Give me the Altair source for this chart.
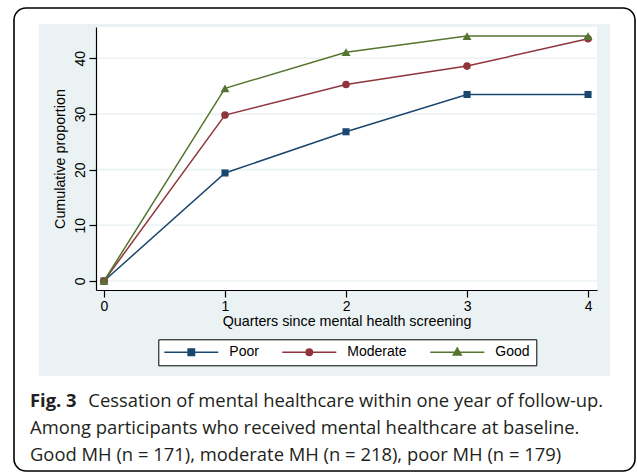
import altair as alt
import pandas as pd

# ---- data ----
quarters = [0, 1, 2, 3, 4]
poor = [0, 19.4, 26.8, 33.5, 33.5]
moderate = [0, 29.8, 35.3, 38.6, 43.5]
good = [0, 34.6, 41.1, 44.0, 44.0]
series_names = ["Poor", "Moderate", "Good"]
series_colors = ["#1a476f", "#90353b", "#55752f"]
x_ticks = [0, 1, 2, 3, 4]
y_ticks = [0, 10, 20, 30, 40]
x_title = "Quarters since mental health screening"
y_title = "Cumulative proportion"
caption_bold = "Fig. 3"
caption_lines = [
    "Cessation of mental healthcare within one year of follow-up.",
    "Among participants who received mental healthcare at baseline.",
    "Good MH (n = 171), moderate MH (n = 218), poor MH (n = 179)",
]

rows = []
for name, vals in zip(series_names, [poor, moderate, good]):
    for q, v in zip(quarters, vals):
        rows.append({"quarter": q, "value": v, "series": name})
df = pd.DataFrame(rows)
grid_df = pd.DataFrame({"value": y_ticks})
one = alt.Data(values=[{"a": 1}])

W, H = 501, 263
FONT = "Liberation Sans"
BG = "#EAF2F3"

x_scale = alt.Scale(domain=[-0.066, 4.074], nice=False, zero=False)
y_scale = alt.Scale(domain=[-1.62, 45.62], nice=False, zero=False)

x_axis = alt.Axis(values=x_ticks, format="d", title=x_title, grid=False,
                  domainColor="black", domainWidth=1.2, tickColor="black",
                  tickWidth=1.2, tickSize=7, labelFont=FONT, labelFontSize=14,
                  labelColor="black", labelPadding=2, titleFont=FONT,
                  titleFontSize=14.3, titleFontWeight="normal", titleColor="black",
                  titlePadding=1, zindex=1)
y_axis = alt.Axis(values=y_ticks, format="d", title=y_title, grid=False,
                  domainColor="black", domainWidth=1.2, tickColor="black",
                  tickWidth=1.2, tickSize=7, labelFont=FONT, labelFontSize=14,
                  labelColor="black", labelAngle=270, labelAlign="center",
                  labelBaseline="alphabetic", labelPadding=5, titleFont=FONT,
                  titleFontSize=14.3, titleFontWeight="normal", titleColor="black",
                  titlePadding=6, zindex=1)

X = alt.X("quarter:Q", scale=x_scale, axis=x_axis)
Y = alt.Y("value:Q", scale=y_scale, axis=y_axis)

# ---- background decorations ----
frame = alt.Chart(one).mark_rect(fill="white", stroke="black", strokeWidth=1.6,
                                 cornerRadius=12).encode(
    x=alt.value(-82), x2=alt.value(539), y=alt.value(-19), y2=alt.value(444))
region = alt.Chart(one).mark_rect(fill=BG).encode(
    x=alt.value(-57), x2=alt.value(514), y=alt.value(-3), y2=alt.value(349))
plotbg = alt.Chart(one).mark_rect(fill="white").encode(
    x=alt.value(0), x2=alt.value(W), y=alt.value(0), y2=alt.value(H))

grid = alt.Chart(grid_df).mark_rule(color=BG, strokeWidth=1.6).encode(y=Y)

shapes = {"Poor": ("square", 50), "Moderate": ("circle", 58), "Good": ("triangle-up", 80)}
data_layers = []
for name, col in zip(series_names, series_colors):
    shp, sz = shapes[name]
    base = alt.Chart(df).transform_filter(alt.datum.series == name)
    data_layers.append(base.mark_line(strokeWidth=1.5, color=col).encode(x=X, y=Y))
    data_layers.append(
        base.mark_point(filled=True, shape=shp, size=sz, opacity=1, color=col)
        .encode(x=X, y=Y)
    )

legend_paths = [
    "M-7,0H47M16.8,-3.2H23.2V3.2H16.8Z",
    "M-7,0H47M23.2,0A3.2,3.2,0,1,1,16.8,0A3.2,3.2,0,1,1,23.2,0Z",
    "M-7,0H47M20,-4.2L24,2.8H16Z",
]
color_scale = alt.Scale(domain=series_names, range=series_colors)
shape_scale = alt.Scale(domain=series_names, range=legend_paths)
legend_obj = alt.Legend(title=None, orient="none", legendX=62.3, legendY=312.3,
                        direction="horizontal", symbolSize=4, symbolStrokeWidth=1.5,
                        symbolOffset=0, labelOffset=51, columnPadding=20, padding=6,
                        fillColor="white", strokeColor="black", labelFont=FONT,
                        labelFontSize=14, labelColor="black", cornerRadius=0)
legend_layer = (
    alt.Chart(df).transform_filter("false")
    .mark_point(filled=True, size=4, strokeWidth=1.5, opacity=1)
    .encode(
        x=X, y=Y,
        color=alt.Color("series:N", scale=color_scale, legend=legend_obj),
        stroke=alt.Stroke("series:N", scale=color_scale, legend=legend_obj),
        shape=alt.Shape("series:N", scale=shape_scale, legend=legend_obj),
    )
)

# ---- caption ----
CAP_FONT = "Open Sans"
CAP_SIZE = 18.4
CAP_COLOR = "#231f20"
cap_x = -66
cap_y = [379.7, 407.3, 433.7]
cap_layers = [
    alt.Chart(one).mark_text(align="left", baseline="alphabetic", font=CAP_FONT,
                             fontSize=CAP_SIZE, fontWeight="bold", color=CAP_COLOR)
    .encode(x=alt.value(cap_x), y=alt.value(cap_y[0]), text=alt.value(caption_bold)),
    alt.Chart(one).mark_text(align="left", baseline="alphabetic", font=CAP_FONT,
                             fontSize=CAP_SIZE, color=CAP_COLOR)
    .encode(x=alt.value(-7.7), y=alt.value(cap_y[0]), text=alt.value(caption_lines[0])),
]
for i in (1, 2):
    cap_layers.append(
        alt.Chart(one).mark_text(align="left", baseline="alphabetic", font=CAP_FONT,
                                 fontSize=CAP_SIZE, color=CAP_COLOR)
        .encode(x=alt.value(cap_x), y=alt.value(cap_y[i]), text=alt.value(caption_lines[i]))
    )

chart = alt.layer(frame, region, plotbg, grid, *data_layers, legend_layer,
                  *cap_layers).properties(
    width=W, height=H,
    padding={"left": 96, "top": 27, "right": 40, "bottom": 184},
    autosize=alt.AutoSizeParams(type="none"),
    background="white",
).configure_view(stroke="transparent")

chart.save("out.html", embed_options={"renderer": "svg", "actions": False})
